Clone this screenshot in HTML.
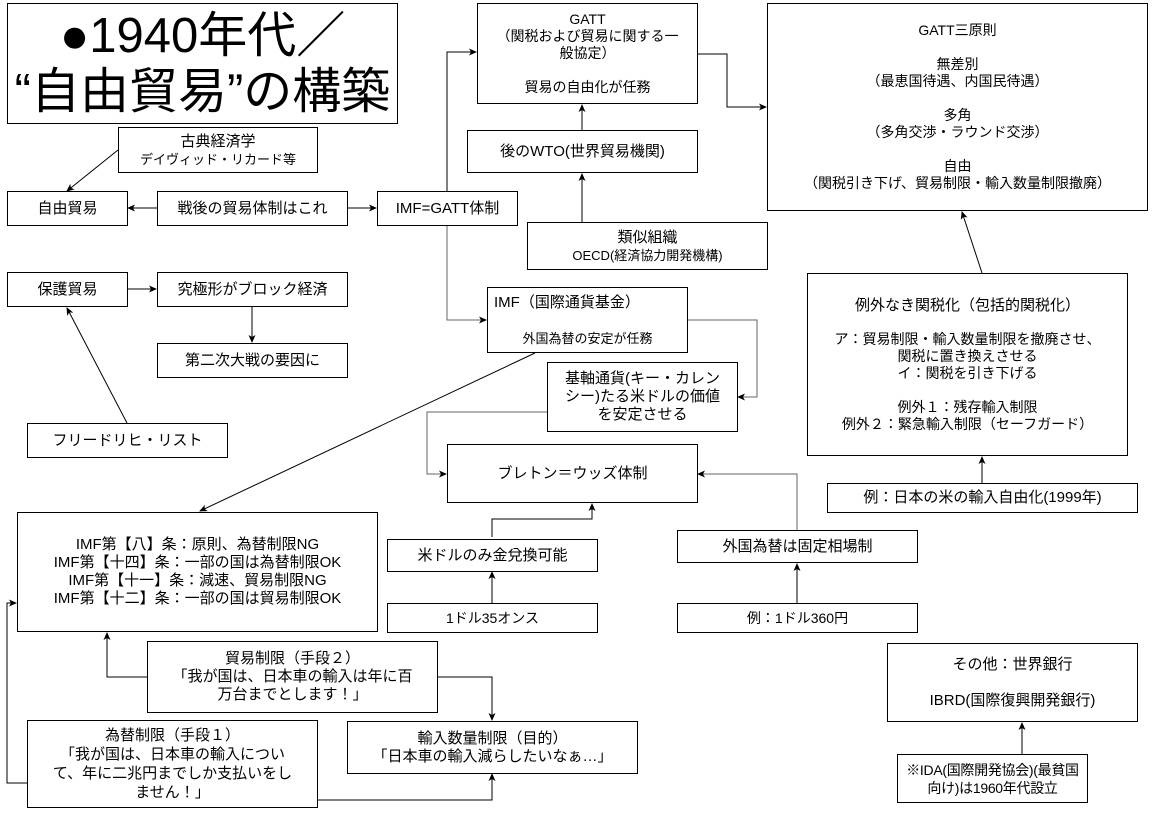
<!DOCTYPE html>
<html><head><meta charset="utf-8"><style>
body{margin:0;width:1158px;height:814px;background:#fff;position:relative;overflow:hidden;font-family:"Liberation Sans","Noto Sans CJK JP",sans-serif;color:#000}
.b{position:absolute;box-sizing:border-box;border:1px solid #000;background:#fff;display:flex;flex-direction:column;align-items:center;justify-content:center;text-align:center;font-size:15px;line-height:18px}
.s{font-size:13px;line-height:17px}
svg{position:absolute;left:0;top:0}
</style></head><body>
<svg width="1158" height="814">
<defs><marker id="a" markerWidth="8" markerHeight="8" refX="7" refY="4" orient="auto" markerUnits="userSpaceOnUse"><path d="M0,0.5 L8,4 L0,7.5 L2,4z" fill="#000"/></marker></defs>
<g fill="none" stroke="#000" stroke-width="1" marker-end="url(#a)">
<path d="M118,150 L67,191"/>
<path d="M157,208 L128,208"/>
<path d="M347,208 L376,208"/>
<path d="M447,191 L447,52 L476,52"/>
<path d="M447,226 L447,320 L486,320" stroke="#666"/>
<path d="M582,130 L582,105"/>
<path d="M582,222 L582,174"/>
<path d="M697,54 L727,54 L727,107 L766,107"/>
<path d="M127,289 L156,289"/>
<path d="M252,307 L252,342"/>
<path d="M127,423 L67,308"/>
<path d="M535,353 L200,511"/>
<path d="M687,320 L757,320 L757,397 L738,397" stroke="#666"/>
<path d="M547,412 L427,412 L427,474 L446,474" stroke="#666"/>
<path d="M797,530 L797,474 L698,474" stroke="#666"/>
<path d="M492,537 L492,519 L592,519 L592,504"/>
<path d="M492,603 L492,572"/>
<path d="M797,603 L797,564"/>
<path d="M982,483 L982,457"/>
<path d="M982,273 L962,212"/>
<path d="M1022,754 L1022,723"/>
<path d="M147,677 L107,677 L107,633"/>
<path d="M437,677 L492,677 L492,720"/>
<path d="M27,783 L7,783 L7,603 L16,603"/>
<path d="M317,800 L492,800 L492,774"/>
</g></svg>
<div class="b" style="left:7px;top:3px;width:391px;height:121px;font-size:49px;line-height:56px;white-space:nowrap">●1940年代／<br>“自由貿易”の構築</div>
<div class="b" style="left:118px;top:127px;width:200px;height:46px"><div>古典経済学</div><div class="s">デイヴィッド・リカード等</div></div>
<div class="b" style="left:7px;top:191px;width:121px;height:35px">自由貿易</div>
<div class="b" style="left:157px;top:191px;width:191px;height:35px">戦後の貿易体制はこれ</div>
<div class="b" style="left:377px;top:191px;width:141px;height:35px">IMF=GATT体制</div>
<div class="b" style="left:7px;top:272px;width:121px;height:35px">保護貿易</div>
<div class="b" style="left:157px;top:272px;width:191px;height:35px">究極形がブロック経済</div>
<div class="b" style="left:157px;top:343px;width:191px;height:35px">第二次大戦の要因に</div>
<div class="b" style="left:27px;top:423px;width:201px;height:35px">フリードリヒ・リスト</div>
<div class="b s" style="left:477px;top:3px;width:221px;height:101px;font-size:14px"><div>GATT</div><div>（関税および貿易に関する一<br>般協定）</div><div>&nbsp;</div><div>貿易の自由化が任務</div></div>
<div class="b" style="left:467px;top:130px;width:231px;height:43px">後のWTO(世界貿易機関)</div>
<div class="b" style="left:527px;top:222px;width:241px;height:48px"><div>類似組織</div><div class="s">OECD(経済協力開発機構)</div></div>
<div class="b" style="left:487px;top:287px;width:201px;height:66px;align-items:stretch"><div style="text-align:left;padding-left:6px">IMF（国際通貨基金）</div><div>&nbsp;</div><div class="s">外国為替の安定が任務</div></div>
<div class="b" style="left:547px;top:362px;width:191px;height:70px">基軸通貨(キー・カレン<br>シー)たる米ドルの価値<br>を安定させる</div>
<div class="b" style="left:447px;top:444px;width:251px;height:59px">ブレトン＝ウッズ体制</div>
<div class="b" style="left:17px;top:512px;width:361px;height:120px">IMF第【八】条：原則、為替制限NG<br>IMF第【十四】条：一部の国は為替制限OK<br>IMF第【十一】条：減速、貿易制限NG<br>IMF第【十二】条：一部の国は貿易制限OK</div>
<div class="b" style="left:387px;top:539px;width:211px;height:33px">米ドルのみ金兌換可能</div>
<div class="b" style="left:387px;top:603px;width:211px;height:30px;font-size:14px">1ドル35オンス</div>
<div class="b" style="left:677px;top:530px;width:241px;height:33px">外国為替は固定相場制</div>
<div class="b" style="left:677px;top:603px;width:241px;height:30px;font-size:14px">例：1ドル360円</div>
<div class="b" style="left:147px;top:641px;width:291px;height:72px">貿易制限（手段２）<br>「我が国は、日本車の輸入は年に百<br>万台までとします！」</div>
<div class="b" style="left:27px;top:720px;width:291px;height:88px;line-height:19px">為替制限（手段１）<br>「我が国は、日本車の輸入につい<br>て、年に二兆円までしか支払いをし<br>ません！」</div>
<div class="b" style="left:347px;top:721px;width:291px;height:53px">輸入数量制限（目的）<br>「日本車の輸入減らしたいなぁ…」</div>
<div class="b s" style="left:767px;top:3px;width:381px;height:208px;font-size:14px"><div>GATT三原則</div><div>&nbsp;</div><div>無差別<br>（最恵国待遇、内国民待遇）</div><div>&nbsp;</div><div>多角<br>（多角交渉・ラウンド交渉）</div><div>&nbsp;</div><div>自由<br>（関税引き下げ、貿易制限・輸入数量制限撤廃）</div></div>
<div class="b s" style="left:807px;top:273px;width:321px;height:183px;font-size:14px"><div style="font-size:15px">例外なき関税化（包括的関税化）</div><div>&nbsp;</div><div>ア：貿易制限・輸入数量制限を撤廃させ、<br>関税に置き換えさせる<br>イ：関税を引き下げる</div><div>&nbsp;</div><div>例外１：残存輸入制限<br>例外２：緊急輸入制限（セーフガード）</div></div>
<div class="b" style="left:827px;top:483px;width:311px;height:30px">例：日本の米の輸入自由化(1999年)</div>
<div class="b" style="left:887px;top:643px;width:251px;height:79px"><div>その他：世界銀行</div><div>&nbsp;</div><div>IBRD(国際復興開発銀行)</div></div>
<div class="b" style="left:897px;top:754px;width:191px;height:49px;font-size:14px;white-space:nowrap;letter-spacing:-0.3px">※IDA(国際開発協会)(最貧国<br>向け)は1960年代設立</div>
</body></html>
